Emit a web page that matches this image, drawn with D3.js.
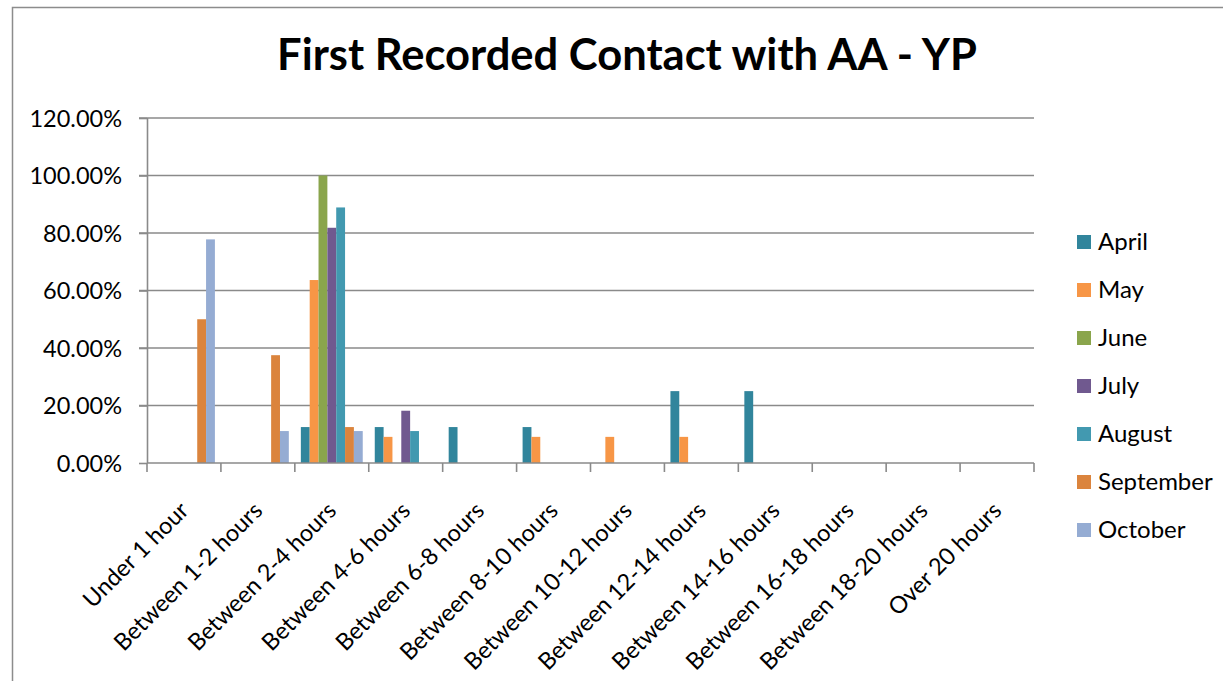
<!DOCTYPE html>
<html>
<head>
<meta charset="utf-8">
<script src="https://cdn.jsdelivr.net/npm/d3@7"></script>
<style>
  html, body { margin: 0; padding: 0; background: #fff; }
  svg { display: block; font-family: Lato, "Open Sans", sans-serif; }
</style>
</head>
<body>
<div id="chart"></div>
<script>
const W = 1223;
const H = 681;

const categories = [
  "Under 1 hour", "Between 1-2 hours", "Between 2-4 hours", "Between 4-6 hours",
  "Between 6-8 hours", "Between 8-10 hours", "Between 10-12 hours", "Between 12-14 hours",
  "Between 14-16 hours", "Between 16-18 hours", "Between 18-20 hours", "Over 20 hours",
];
const months = ["April", "May", "June", "July", "August", "September", "October"];
const monthColors = ["#31859c", "#f79646", "#8aa54c", "#70598f", "#4299b0", "#db843d", "#95acd3"];

// one value per category
const april     = [0, 0, 0.125, 0.125, 0.125, 0.125, 0, 0.25, 0.25, 0, 0, 0];
const may       = [0, 0, 0.6364, 0.0909, 0, 0.0909, 0.0909, 0.0909, 0, 0, 0, 0];
const june      = [0, 0, 1.0, 0, 0, 0, 0, 0, 0, 0, 0, 0];
const july      = [0, 0, 0.8182, 0.1818, 0, 0, 0, 0, 0, 0, 0, 0];
const august    = [0, 0, 0.8889, 0.1111, 0, 0, 0, 0, 0, 0, 0, 0];
const september = [0.5, 0.375, 0.125, 0, 0, 0, 0, 0, 0, 0, 0, 0];
const october   = [0.7778, 0.1111, 0.1111, 0, 0, 0, 0, 0, 0, 0, 0, 0];
const yTicks = [0, 0.2, 0.4, 0.6, 0.8, 1.0, 1.2];

const seriesValues = [april, may, june, july, august, september, october];

const m = { left: 147, right: 1034, top: 118, bottom: 463 };
const gridColor = "#8a8a8a";
const labelSize = 23.5;

const svg = d3.select("#chart").append("svg")
  .attr("width", W).attr("height", H);

// chart frame (runs off the right / bottom edge like the screenshot)
svg.append("rect")
  .attr("x", 12.5).attr("y", 7.5)
  .attr("width", 1400).attr("height", 800)
  .attr("fill", "#fff").attr("stroke", "#8c8c8c").attr("stroke-width", 1.5);

svg.append("text")
  .attr("x", 627).attr("y", 70)
  .attr("text-anchor", "middle")
  .attr("font-size", 43.5).attr("font-weight", "bold")
  .attr("fill", "#000")
  .text("First Recorded Contact with AA - YP");

const y = d3.scaleLinear().domain([0, 1.2]).range([m.bottom, m.top]);
const x0 = d3.scaleBand().domain(categories).range([m.left, m.right]);
const x1 = d3.scaleBand().domain(months).range([0, x0.bandwidth()]).paddingOuter(0.68);

// gridlines
svg.append("g")
  .selectAll("line").data(yTicks.filter((t) => t > 0)).join("line")
  .attr("x1", m.left - 8).attr("x2", m.right)
  .attr("y1", (d) => y(d)).attr("y2", (d) => y(d))
  .attr("stroke", gridColor).attr("stroke-width", 1.6);

// bars
const groups = svg.append("g").selectAll("g").data(categories).join("g")
  .attr("transform", (c) => `translate(${x0(c)},0)`);
groups.selectAll("rect")
  .data((c, ci) => months.map((mo, si) => ({ mo, si, v: seriesValues[si][ci] })))
  .join("rect")
  .attr("x", (d) => x1(d.mo))
  .attr("width", x1.bandwidth())
  .attr("y", (d) => y(d.v))
  .attr("height", (d) => y(0) - y(d.v))
  .attr("fill", (d) => monthColors[d.si]);

// y axis
const yAxis = svg.append("g")
  .attr("transform", `translate(${m.left},0)`)
  .call(d3.axisLeft(y).tickValues(yTicks).tickFormat(d3.format(".2%")).tickSize(8).tickPadding(17));
yAxis.select(".domain").attr("stroke", gridColor).attr("stroke-width", 1.6).attr("d", `M0.5,${m.top}V${m.bottom}`);
yAxis.selectAll(".tick line").attr("stroke", gridColor).attr("stroke-width", 1.6);
yAxis.selectAll(".tick text").attr("font-size", labelSize).attr("fill", "#000").attr("font-family", "Lato").attr("dy", "0.35em");

// x axis with ticks at the category boundaries
const xAxis = svg.append("g").attr("transform", `translate(0,${m.bottom})`);
xAxis.append("line")
  .attr("x1", m.left).attr("x2", m.right)
  .attr("stroke", gridColor).attr("stroke-width", 1.6);
xAxis.selectAll("line.tk")
  .data(categories.map((c) => x0(c)).concat([m.right]))
  .join("line").attr("class", "tk")
  .attr("x1", (d) => d).attr("x2", (d) => d)
  .attr("y1", 0).attr("y2", 9)
  .attr("stroke", gridColor).attr("stroke-width", 1.6);
xAxis.selectAll("text")
  .data(categories).join("text")
  .attr("transform", (c) => `translate(${x0(c) + x0.bandwidth() / 2 + 6},${49}) rotate(-45)`)
  .attr("text-anchor", "end")
  .attr("font-size", labelSize)
  .attr("fill", "#000")
  .text((c) => c);

// legend
const legend = svg.append("g").selectAll("g").data(months).join("g")
  .attr("transform", (d, i) => `translate(1077,${242 + i * 48})`);
legend.append("rect")
  .attr("x", 0).attr("y", -7).attr("width", 14).attr("height", 14)
  .attr("fill", (d, i) => monthColors[i]);
legend.append("text")
  .attr("x", 21).attr("dy", "0.35em")
  .attr("font-size", 24)
  .attr("fill", "#000")
  .text((d) => d);
</script>
</body>
</html>
